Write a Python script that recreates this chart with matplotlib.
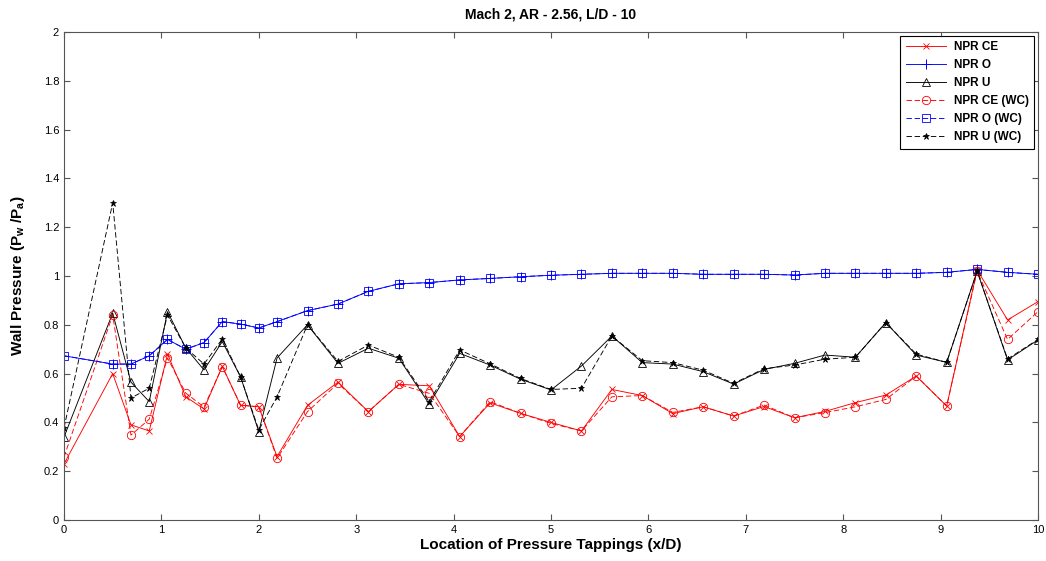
import numpy as np
import matplotlib
matplotlib.use('Agg')
import matplotlib.pyplot as plt

plt.rcParams['font.family'] = ['Liberation Sans', 'DejaVu Sans']
plt.rcParams['mathtext.fontset'] = 'custom'
plt.rcParams['mathtext.rm'] = 'Liberation Sans:bold'
plt.rcParams['mathtext.default'] = 'rm'

# tapping locations (x/D)
x = [0, 0.5, 0.6875, 0.875, 1.0625, 1.25, 1.4375, 1.625, 1.8125, 2.0, 2.1875,
     2.5, 2.8125, 3.125, 3.4375, 3.75, 4.0625, 4.375, 4.6875, 5.0, 5.3125,
     5.625, 5.9375, 6.25, 6.5625, 6.875, 7.1875, 7.5, 7.8125, 8.125, 8.4375,
     8.75, 9.0625, 9.375, 9.6875, 10.0]

npr_ce = [0.23, 0.60, 0.39, 0.365, 0.68, 0.505, 0.455, 0.63, 0.47, 0.464, 0.26,
          0.47, 0.565, 0.444, 0.556, 0.55, 0.342, 0.48, 0.437, 0.40, 0.365,
          0.535, 0.51, 0.436, 0.464, 0.426, 0.465, 0.419, 0.445, 0.481, 0.512,
          0.59, 0.467, 1.025, 0.82, 0.895]
npr_o = [0.673, 0.639, 0.639, 0.673, 0.74, 0.70, 0.727, 0.813, 0.803, 0.787, 0.813,
         0.858, 0.885, 0.937, 0.968, 0.973, 0.984, 0.990, 0.997, 1.003, 1.007,
         1.011, 1.011, 1.011, 1.007, 1.007, 1.007, 1.004, 1.011, 1.011, 1.011,
         1.011, 1.015, 1.027, 1.015, 1.007]
npr_u = [0.34, 0.848, 0.565, 0.485, 0.854, 0.705, 0.615, 0.731, 0.587, 0.362, 0.664,
         0.80, 0.642, 0.704, 0.663, 0.475, 0.683, 0.635, 0.577, 0.533, 0.631,
         0.754, 0.645, 0.639, 0.608, 0.557, 0.617, 0.642, 0.676, 0.667, 0.809,
         0.676, 0.646, 1.02, 0.656, 0.738]
npr_ce_wc = [0.258, 0.84, 0.348, 0.413, 0.664, 0.52, 0.463, 0.628, 0.471, 0.464, 0.253,
             0.444, 0.56, 0.444, 0.556, 0.519, 0.342, 0.485, 0.437, 0.396, 0.365,
             0.505, 0.51, 0.441, 0.464, 0.426, 0.471, 0.419, 0.44, 0.464, 0.494,
             0.59, 0.467, 1.02, 0.74, 0.854]
npr_o_wc = npr_o
npr_u_wc = [0.377, 1.30, 0.50, 0.54, 0.84, 0.705, 0.639, 0.742, 0.587, 0.369, 0.505,
            0.80, 0.65, 0.717, 0.667, 0.485, 0.697, 0.64, 0.58, 0.535, 0.54,
            0.754, 0.653, 0.645, 0.614, 0.56, 0.62, 0.635, 0.659, 0.667, 0.809,
            0.68, 0.646, 1.02, 0.66, 0.74]

fig = plt.figure(figsize=(10.46, 5.61), dpi=100)
ax = fig.add_axes([64/1046, 41/561, 974/1046, 488/561])

lw = 0.65
ax.plot(x, npr_ce, color='#ff0000', lw=lw, marker='x', ms=4, mew=0.6, label='NPR CE')
ax.plot(x, npr_o, color='#0000ff', lw=lw, marker='+', ms=7, mew=0.7, label='NPR O')
ax.plot(x, npr_u, color='k', lw=lw, marker='^', ms=6, mfc='none', mew=0.6, label='NPR U')
ax.plot(x, npr_ce_wc, color='#ff0000', lw=lw, ls=(0, (6, 3)), marker='o', ms=6,
        mfc='none', mew=0.6, label='NPR CE (WC)')
ax.plot(x, npr_o_wc, color='#0000ff', lw=lw, ls=(0, (6, 3)), marker='s', ms=5.5,
        mfc='none', mew=0.6, label='NPR O (WC)')
ax.plot(x, npr_u_wc, color='k', lw=lw, ls=(0, (6, 3)), marker='*', ms=5, mew=0.5,
        label='NPR U (WC)')

ax.set_xlim(0, 10)
ax.set_ylim(0, 2)
ax.set_xticks(range(11))
ax.set_yticks(np.arange(0, 2.01, 0.2))
ax.set_yticklabels(['0', '0.2', '0.4', '0.6', '0.8', '1', '1.2', '1.4', '1.6', '1.8', '2'])
ax.tick_params(direction='in', top=True, right=True, labelsize=8, length=4,
               color='#555555', width=0.8)
for s in ax.spines.values():
    s.set_color('#555555')
    s.set_linewidth(0.8)

ax.set_title('Mach 2, AR - 2.56, L/D - 10', fontsize=10, fontweight='bold', pad=10)
ax.set_xlabel('Location of Pressure Tappings (x/D)', fontsize=11, fontweight='bold', labelpad=2)
ax.set_ylabel(r'Wall Pressure (P$_{w}$ /P$_{a}$)', fontsize=11, fontweight='bold', labelpad=12)

leg = ax.legend(loc='upper right', prop={'weight': 'bold', 'size': 8.5},
                fancybox=False, framealpha=1, edgecolor='k', handlelength=3.4,
                handletextpad=0.6, borderaxespad=0.3, labelspacing=0.5,
                borderpad=0.5)
leg.get_frame().set_linewidth(0.8)

plt.savefig('out.png', dpi=100)
